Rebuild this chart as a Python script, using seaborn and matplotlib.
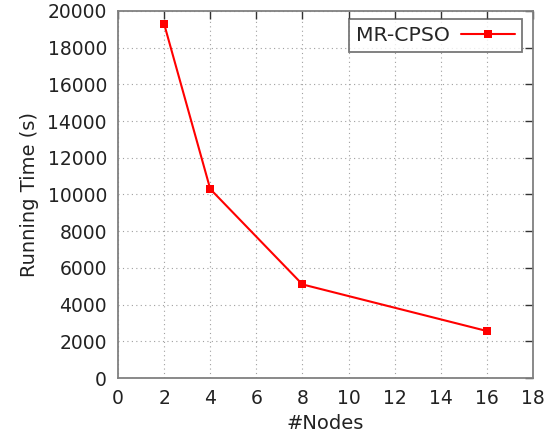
import matplotlib
matplotlib.use("Agg")
import matplotlib.pyplot as plt
import seaborn as sns
import pandas as pd

nodes = [2, 4, 8, 16]
running_time = [19300, 10300, 5100, 2560]
series_name = "MR-CPSO"

df = pd.DataFrame({"#Nodes": nodes, "Running Time (s)": running_time, "series": series_name})

sns.set_style("white")
plt.rcParams["font.family"] = ["DejaVu Sans"]

fig = plt.figure(figsize=(5.57, 4.48), dpi=100)
ax = fig.add_axes([118 / 557, 1 - 378 / 448, (533 - 118) / 557, (378 - 11) / 448])

sns.lineplot(data=df, x="#Nodes", y="Running Time (s)", hue="series",
             palette=["#ff0000"], marker="s", markersize=5.5, markeredgewidth=0,
             linewidth=1.5, ax=ax)

ax.set_xlim(0, 18)
ax.set_ylim(0, 20000)
ax.set_xticks(range(0, 19, 2))
ax.set_yticks(range(0, 20001, 2000))
ax.grid(True, color="#a0a0a0", linestyle=(0, (1, 3)), linewidth=0.8)
ax.tick_params(direction="in", length=6, width=1, color="#333333",
               top=True, right=True, labelsize=13.5, pad=8, labelcolor="#222222")
for s in ax.spines.values():
    s.set_color("#808080")
    s.set_linewidth(1.3)
ax.set_xlabel("#Nodes", fontsize=14, color="#222222", labelpad=4)
ax.set_ylabel("Running Time (s)", fontsize=14, color="#222222", labelpad=6)

leg = ax.legend(loc="upper right", fontsize=14.7, frameon=True, fancybox=False,
                markerfirst=False, handlelength=2.65, handletextpad=0.55,
                borderpad=0.35, borderaxespad=0,
                bbox_to_anchor=(0.9735, 0.978))
leg.get_frame().set_edgecolor("#555555")
leg.get_frame().set_linewidth(1.3)

fig.savefig("out.png", dpi=100)
